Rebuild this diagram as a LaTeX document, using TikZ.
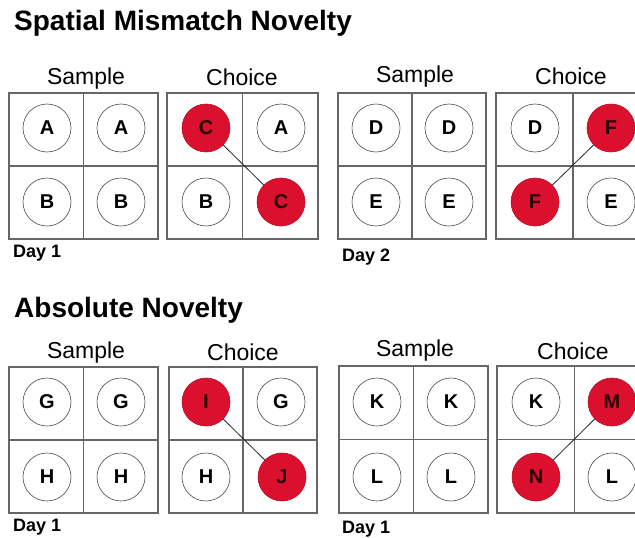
\documentclass[tikz,border=0pt]{standalone}
\usepackage{fontspec}
\setmainfont{Liberation Sans}
\definecolor{novred}{RGB}{218,16,46}
\tikzset{
 gridline/.style={draw=black!60, line width=1.2pt},
 obj/.style={circle, draw=black!70, line width=0.6pt, minimum size=48pt, inner sep=0pt, font=\fontsize{20}{20}\selectfont\bfseries},
 novel/.style={obj, fill=novred, draw=novred!85!black, text=black!85!red},
 link/.style={draw=black!85, line width=0.8pt},
 head/.style={font=\fontsize{28}{30}\selectfont\bfseries, anchor=west, inner sep=0pt},
 phase/.style={font=\fontsize{23}{24}\selectfont, inner sep=0pt},
 day/.style={font=\fontsize{18}{18}\selectfont\bfseries, anchor=west, inner sep=0pt}
}
\newcommand\boxgrid[4]{%
 \draw[gridline] (#1,#2) rectangle (#3,#4);
 \draw[gridline] ({(#1+#3)/2},#2) -- ({(#1+#3)/2},#4);
 \draw[gridline] (#1,{(#2+#4)/2}) -- (#3,{(#2+#4)/2});
}
\begin{document}
\begin{tikzpicture}[x=1pt,y=-1pt]
\path[use as bounding box, clip] (0,0) rectangle (635,538);
\fill[white] (0,0) rectangle (635,538);

% ---------- Spatial Mismatch Novelty ----------
\node[head] (t1) at (14,23) {Spatial Mismatch Novelty};
\node[phase] (s1) at (86,79) {Sample};
\node[phase] (c1) at (242,77) {Choice};
\node[phase] (s2) at (415,77) {Sample};
\node[phase] (c2) at (571,76) {Choice};

\boxgrid{9}{93}{158}{239}
\boxgrid{167}{93}{318}{239}
\boxgrid{338}{93}{486}{239}
\boxgrid{496}{93}{650}{239}

\node[obj] (a1) at (47,128) {A};
\node[obj] (a2) at (121,128) {A};
\node[obj] (b1) at (47,202) {B};
\node[obj] (b2) at (121,202) {B};

\node[novel] (cc1) at (206,128) {C};
\node[obj] (a3) at (281,128) {A};
\node[obj] (b3) at (206,202) {B};
\node[novel] (cc2) at (281,202) {C};
\draw[link] (cc1) -- (cc2);

\node[obj] (d1) at (376,128) {D};
\node[obj] (d2) at (449,128) {D};
\node[obj] (e1) at (376,202) {E};
\node[obj] (e2) at (449,202) {E};

\node[obj] (d3) at (535,128) {D};
\node[novel] (f1) at (611,128) {F};
\node[novel] (f2) at (535,202) {F};
\node[obj] (e3) at (611,202) {E};
\draw[link] (f1) -- (f2);

\node[day] (day1) at (13,253) {Day 1};
\node[day] (day2) at (342,257) {Day 2};

% ---------- Absolute Novelty ----------
\node[head] (t2) at (14,310) {Absolute Novelty};
\node[phase] (s3) at (86,353) {Sample};
\node[phase] (c3) at (243,352) {Choice};
\node[phase] (s4) at (415,351) {Sample};
\node[phase] (c4) at (573,351) {Choice};

\boxgrid{9}{367}{158}{513}
\boxgrid{169}{367}{317}{513}
\boxgrid{339}{366}{488}{513}
\boxgrid{497}{366}{652}{513}

\node[obj] (g1) at (47,402) {G};
\node[obj] (g2) at (121,402) {G};
\node[obj] (h1) at (47,477) {H};
\node[obj] (h2) at (121,477) {H};

\node[novel] (i1) at (206,402) {I};
\node[obj] (g3) at (281,402) {G};
\node[obj] (h3) at (206,477) {H};
\node[novel] (j1) at (282,477) {J};
\draw[link] (i1) -- (j1);

\node[obj] (k1) at (377,402) {K};
\node[obj] (k2) at (451,402) {K};
\node[obj] (l1) at (377,477) {L};
\node[obj] (l2) at (451,477) {L};

\node[obj] (k3) at (536,402) {K};
\node[novel] (m1) at (612,402) {M};
\node[novel] (n1) at (536,477) {N};
\node[obj] (l3) at (612,477) {L};
\draw[link] (m1) -- (n1);

\node[day] (day3) at (13,527) {Day 1};
\node[day] (day4) at (342,529) {Day 1};
\end{tikzpicture}
\end{document}
